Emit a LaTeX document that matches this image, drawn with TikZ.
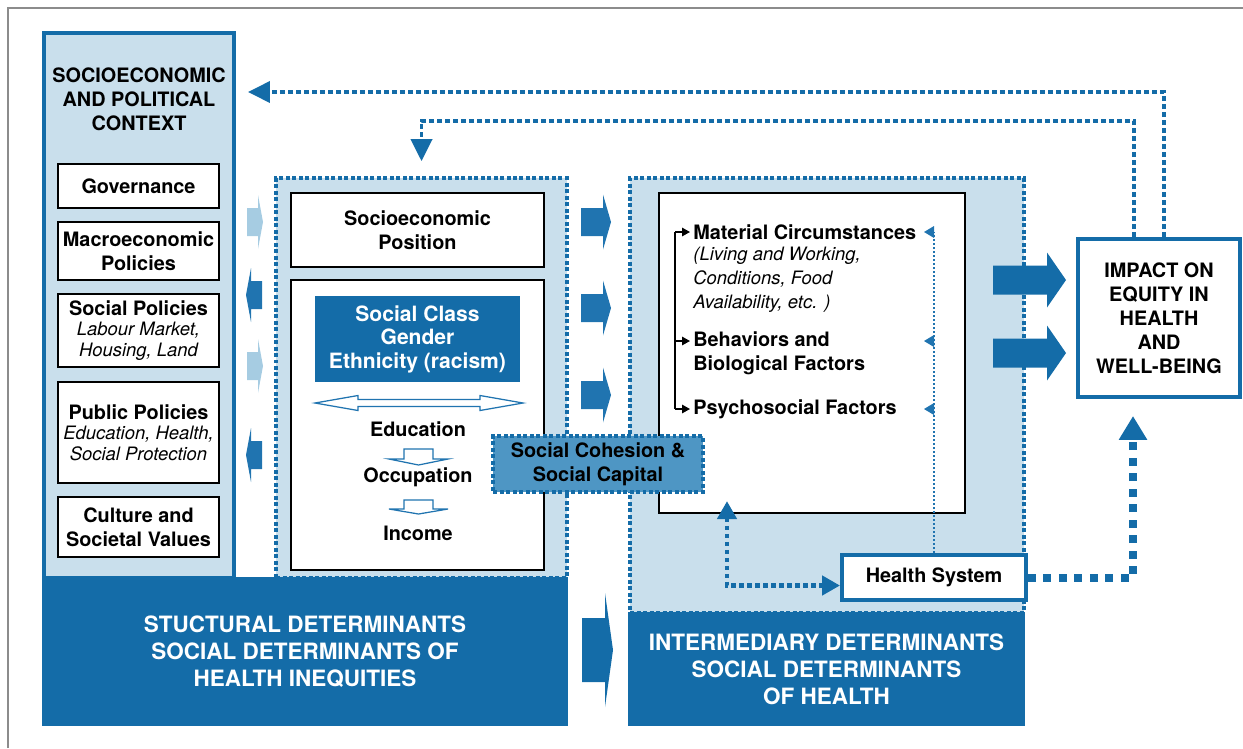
\documentclass[tikz,border=0pt]{standalone}
\usepackage{fontspec}
\setmainfont{TeX Gyre Heros}
\usepackage{tikz}
\usetikzlibrary{arrows.meta,positioning}

\definecolor{dkblue}{RGB}{20,108,168}
\definecolor{arrblue}{RGB}{32,116,176}
\definecolor{ltblue}{RGB}{201,223,236}
\definecolor{paleblue}{RGB}{166,204,226}
\definecolor{midblue}{RGB}{78,150,196}
\definecolor{framegray}{RGB}{140,140,140}

\newcommand{\subtxt}{\fontsize{10.5}{12}\selectfont\mdseries\itshape}
% filled block arrow: colour, tail x, neck x, tip x, y, half shaft, half head
\newcommand{\blockarrow}[7]{%
  \fill[#1] (#2,#5-#6) -- (#3,#5-#6) -- (#3,#5-#7) -- (#4,#5)
    -- (#3,#5+#7) -- (#3,#5+#6) -- (#2,#5+#6) -- cycle;}
% hollow arrow pointing down: x, top y, neck y, tip y, half shaft, half head
\newcommand{\hollowdown}[6]{%
  \filldraw[draw=arrblue, fill=white, line width=0.25mm]
    (#1-#5,#2) -- (#1+#5,#2) -- (#1+#5,#3) -- (#1+#6,#3) -- (#1,#4)
    -- (#1-#6,#3) -- (#1-#5,#3) -- cycle;}

\begin{document}
\begin{tikzpicture}[x=0.02cm, y=-0.02cm,
    font=\fontsize{11.3}{13.6}\selectfont\bfseries,
    box/.style={draw=black, line width=0.45mm, fill=white, align=center,
                inner sep=0pt, minimum width=32.2mm},
    panel/.style={draw=dkblue, line width=0.8mm, fill=ltblue, inner sep=0pt},
    dotpanel/.style={draw=dkblue, line width=0.75mm, dash pattern=on 0.8mm off 0.5mm,
                     fill=ltblue, inner sep=0pt},
    bluebox/.style={draw=dkblue, line width=0.8mm, fill=white, align=center, inner sep=0pt},
    band/.style={fill=dkblue, text=white, align=center, inner sep=0pt,
                 font=\fontsize{12.8}{15.4}\selectfont\bfseries},
    item/.style={anchor=west, inner sep=0pt, align=left},
    note/.style={item, font=\fontsize{10.5}{13.6}\selectfont\mdseries\itshape},
    feedback/.style={draw=dkblue, line width=0.75mm, dash pattern=on 1mm off 0.6mm,
                     -{Triangle[length=4.4mm, width=4.2mm]}},
    hslink/.style={draw=dkblue, line width=0.9mm, dash pattern=on 0.9mm off 0.7mm,
                   {Triangle[length=3.6mm, width=3.8mm]}-{Triangle[length=3.6mm, width=3.8mm]}},
    outcome/.style={draw=dkblue, line width=1.6mm, dash pattern=on 1.6mm off 1.5mm,
                    -{Triangle[length=4.8mm, width=5.4mm]}},
    pathway/.style={draw=arrblue, line width=0.3mm, dash pattern=on 0.4mm off 0.4mm},
    bracket/.style={draw=black, line width=0.3mm},
  ]
  \useasboundingbox (0,0) rectangle (1243,748);
  \draw[framegray, line width=0.4mm] (8,748) -- (8,8) -- (1243,8);

  % context column
  \node[panel, minimum width=38mm, minimum height=109mm] (ctx) at (139,305.5) {};
  \node[align=center] (ctxtitle) at (139,99) {SOCIOECONOMIC\\AND POLITICAL\\CONTEXT};
  \node[box, minimum height=8.8mm] (gov) at (138.5,186) {Governance};
  \node[box, minimum height=11.6mm, below=2.35mm of gov] (macro) {Macroeconomic\\Policies};
  \node[box, minimum height=14.6mm, below=2.35mm of macro] (socpol)
    {Social Policies\\[-2pt]{\subtxt Labour Market,}\\[-2pt]{\subtxt Housing, Land}};
  \node[box, minimum height=20.2mm, below=2.55mm of socpol] (pubpol)
    {Public Policies\\[-2pt]{\subtxt Education, Health,}\\[-2pt]{\subtxt Social Protection}};
  \node[box, minimum height=12mm, below=2.35mm of pubpol] (culture) {Culture and\\Societal Values};

  % structural determinants
  \node[dotpanel, minimum width=58.2mm, minimum height=80mm] (struct) at (421.5,378) {};
  \node[box, minimum width=50.6mm, minimum height=14.8mm] (sep) at (417.5,230) {Socioeconomic\\Position};
  \node[box, minimum width=50.6mm, minimum height=58mm, below=2.15mm of sep] (strat) {};
  \node[fill=dkblue, text=white, align=center, minimum width=41mm, minimum height=17.2mm,
        font=\fontsize{12}{13.4}\selectfont\bfseries] (class) at (417.5,339)
    {Social Class\\Gender\\Ethnicity (racism)};
  \filldraw[draw=arrblue, fill=white, line width=0.25mm]
    (315,403) -- (358,395.5) -- (358,399.5) -- (480,399.5) -- (480,395.5) -- (523,403)
    -- (480,410.5) -- (480,406.5) -- (358,406.5) -- (358,410.5) -- cycle;
  \node (edu) at (418,429) {Education};
  \node (occ) at (418,477) {Occupation};
  \node (inc) at (418,533) {Income};
  \hollowdown{418.5}{449}{459}{465}{14.5}{29.5}
  \hollowdown{418.5}{500}{509}{514}{14.5}{29.5}

  % intermediary determinants
  \node[dotpanel, minimum width=78.8mm, minimum height=87mm] (inter) at (827,395.5) {};
  \node[box, minimum width=61.2mm, minimum height=64mm] (factors) at (812,353) {};
  \node[item] (material) at (693,232) {Material Circumstances};
  \node[note] (living) at (693,280) {(Living and Working,\\Conditions, Food\\Availability, etc. )};
  \node[item] (behav) at (693,353) {Behaviors and\\Biological Factors};
  \node[item] (psycho) at (693,409) {Psychosocial Factors};
  \coordinate (btop) at (675,232);
  \coordinate (bmid) at (675,341);
  \coordinate (bbot) at (675,409);
  \draw[bracket] (btop) -- (bbot);
  \draw[bracket, -{Triangle[length=1.6mm, width=1.7mm]}, shorten >=0.6mm] (btop) -- (material.west);
  \draw[bracket, -{Triangle[length=1.6mm, width=1.7mm]}, shorten >=0.6mm] (bmid) -- (bmid -| behav.west);
  \draw[bracket, -{Triangle[length=1.6mm, width=1.7mm]}, shorten >=0.6mm] (bbot) -- (psycho.west);
  \node[bluebox, minimum width=36.8mm, minimum height=9mm] (hs) at (934,577.5) {Health System};
  \draw[pathway] (hs.north) -- (hs.north |- material);
  \foreach \n in {material, bmid, psycho}{
    \fill[arrblue] (hs.north |- \n) ++(0,-6) -- ++(0,12) -- ++(-10,-6) -- cycle;
  }
  \coordinate (hsloop) at (727,0);
  \draw[hslink, shorten <=-2.6mm] (factors.south -| hsloop) |- ([yshift=-1.6mm]hs.west);

  % bottom bands
  \node[band, minimum width=105.2mm, minimum height=29.8mm] (structband) at (305,651.5)
    {STUCTURAL DETERMINANTS\\SOCIAL DETERMINANTS OF\\HEALTH INEQUITIES};
  \node[band, minimum width=79.4mm, minimum height=22.8mm] (interband) at (826.5,669)
    {INTERMEDIARY DETERMINANTS\\SOCIAL DETERMINANTS\\OF HEALTH};

  \node[draw=dkblue, fill=midblue, line width=0.75mm, dash pattern=on 0.8mm off 0.5mm,
        minimum width=42mm, minimum height=11.2mm, align=center, inner sep=0pt] (cohesion)
    at (598,464) {Social Cohesion \&\\Social Capital};

  % outcome
  \node[bluebox, minimum width=32.4mm, minimum height=31.6mm] (impact) at (1159,318)
    {IMPACT ON\\EQUITY IN\\HEALTH\\AND\\WELL-BEING};

  % block arrows
  \blockarrow{paleblue}{247}{258}{263}{222}{14}{27}
  \blockarrow{arrblue}{262}{251}{246}{295}{14}{27}
  \blockarrow{paleblue}{247}{258}{263}{366}{14}{27}
  \blockarrow{arrblue}{262}{251}{246}{455}{14}{27}
  \foreach \y in {222,308,395}{
    \blockarrow{arrblue}{581}{603}{611}{\y}{14}{27.5}
  }
  \blockarrow{dkblue}{582}{605}{613}{650}{32}{57}
  \foreach \y in {280,353}{
    \blockarrow{dkblue}{993}{1047}{1066}{\y}{14.5}{27.5}
  }

  % feedback loops
  \coordinate (fbout) at (1164,92);
  \coordinate (fbin) at (1134,121);
  \coordinate (hsrise) at (1133,0);
  \draw[feedback, shorten >=2.4mm] (impact.north -| fbout) |- (ctx.east |- fbout);
  \draw[feedback, shorten >=3mm] (impact.north -| fbin) -- (fbin) -| (struct.north);
  \draw[outcome, shorten >=3.4mm] (hs.east) -| (impact.south -| hsrise);
\end{tikzpicture}
\end{document}
